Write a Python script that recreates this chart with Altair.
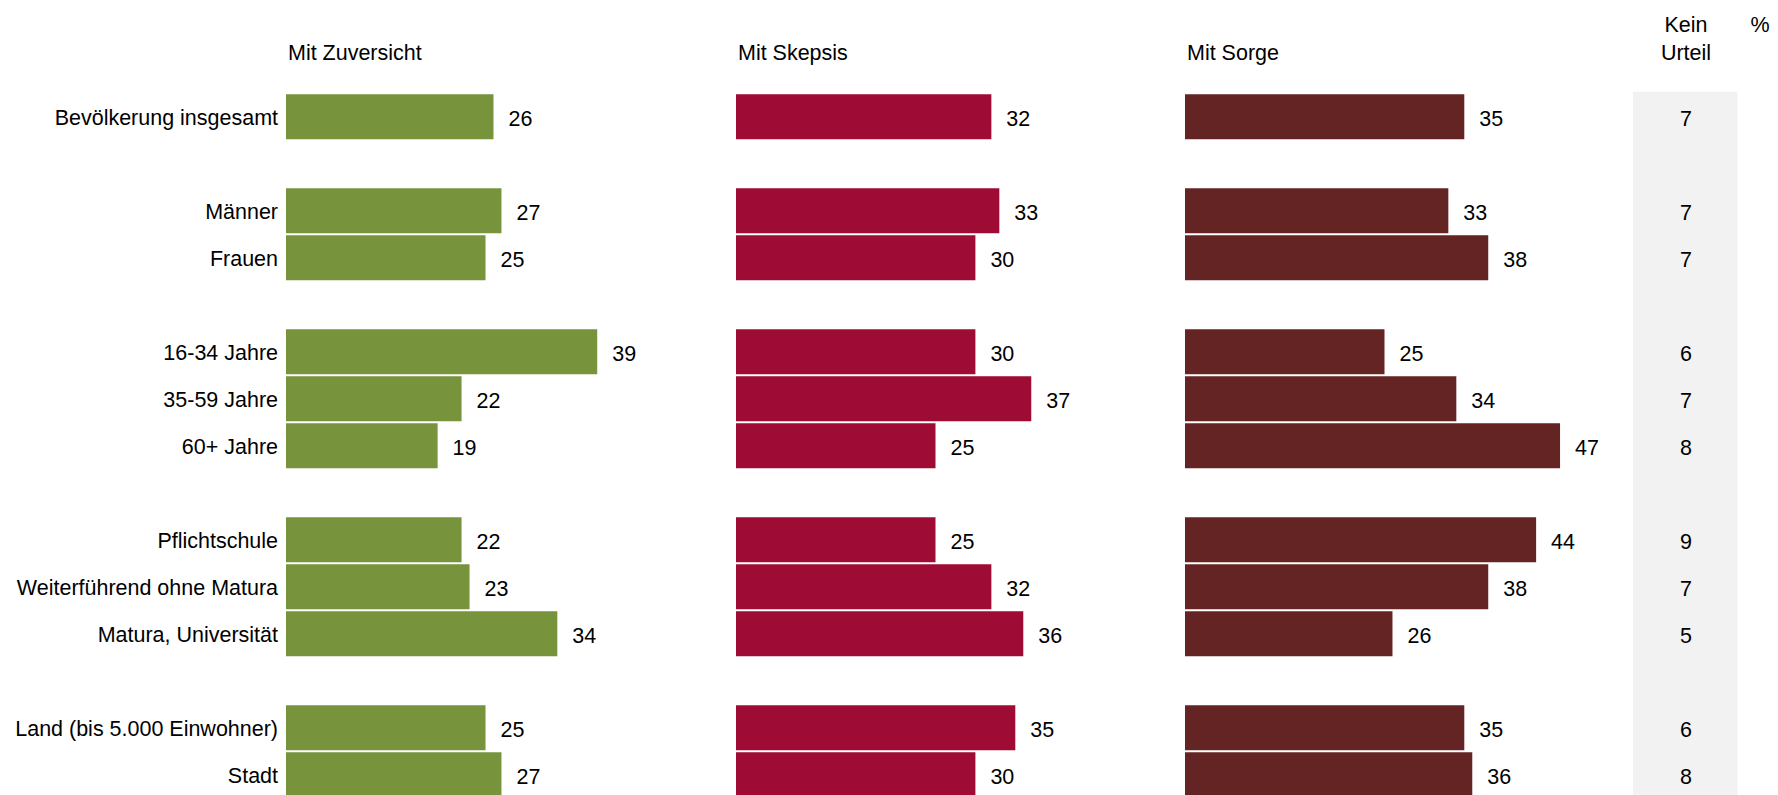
import altair as alt
import pandas as pd

# ---- data ----
categories = [
    "Bevölkerung insgesamt",
    "Männer", "Frauen",
    "16-34 Jahre", "35-59 Jahre", "60+ Jahre",
    "Pflichtschule", "Weiterführend ohne Matura", "Matura, Universität",
    "Land (bis 5.000 Einwohner)", "Stadt",
]
group_sizes = [1, 2, 3, 3, 2]
series = ["Mit Zuversicht", "Mit Skepsis", "Mit Sorge"]
zuversicht = [26, 27, 25, 39, 22, 19, 22, 23, 34, 25, 27]
skepsis = [32, 33, 30, 30, 37, 25, 25, 32, 36, 35, 30]
sorge = [35, 33, 38, 25, 34, 47, 44, 38, 26, 35, 36]
kein_urteil = [7, 7, 7, 6, 7, 8, 9, 7, 5, 6, 8]

colors = ["#77933C", "#9E0B34", "#632423"]
FONT = "Liberation Sans"
FS = 21.5

# ---- layout (pixels -> value units, 1 unit = PX px) ----
PX = 7.98
W = 1476
H = 705
panel_offset = {"Mit Zuversicht": 0.0, "Mit Skepsis": 450 / PX, "Mit Sorge": 899 / PX}
gray_x0, gray_x1, gray_mid, pct_mid = 1347 / PX, 1451.5 / PX, 1400 / PX, 1474 / PX

# y domain with blank spacer rows between groups
domain = []
i = 0
for g, n in enumerate(group_sizes):
    if g > 0:
        domain.append(f"_{g}")
    domain.extend(categories[i:i + n])
    i += n

rows = []
for s, vals in zip(series, [zuversicht, skepsis, sorge]):
    for c, v in zip(categories, vals):
        rows.append({"cat": c, "series": s, "value": v,
                     "start": panel_offset[s], "end": panel_offset[s] + v})
bars_df = pd.DataFrame(rows)

kein_df = pd.DataFrame({"cat": categories, "value": kein_urteil, "x": gray_mid})
head_df = pd.DataFrame({"label": series,
                        "x": [panel_offset[s] + 0.25 for s in series]})

xs = alt.Scale(domain=[0, W / PX], nice=False, zero=True)
ys = alt.Scale(domain=domain, paddingInner=0.045, paddingOuter=0.0225)

base = alt.Chart(bars_df)

gray = alt.Chart(pd.DataFrame({"x0": [gray_x0], "x1": [gray_x1]})).mark_rect(
    color="#F2F2F2").encode(
    x=alt.X("x0:Q", scale=xs, axis=None),
    x2="x1:Q",
    y=alt.value(-1.5),
    y2=alt.value(H),
)

bars = base.mark_bar().encode(
    x=alt.X("start:Q", scale=xs, axis=None),
    x2="end:Q",
    y=alt.Y("cat:N", scale=ys, sort=domain, title=None,
            axis=alt.Axis(labelExpr="substring(datum.value,0,1)=='_' ? '' : datum.value",
                          ticks=False, domain=False, grid=False, labelPadding=8.5,
                          labelOffset=2, labelFontSize=FS, labelFont=FONT,
                          labelColor="#000000", labelLimit=500)),
    color=alt.Color("series:N", scale=alt.Scale(domain=series, range=colors), legend=None),
)

labels = base.mark_text(align="left", baseline="middle", dx=15, dy=3,
                        fontSize=FS, font=FONT, color="#000000").encode(
    x=alt.X("end:Q", scale=xs, axis=None),
    y=alt.Y("cat:N", scale=ys, sort=domain, axis=None),
    text="value:Q",
)

kein = alt.Chart(kein_df).mark_text(align="center", baseline="middle", dy=3,
                                    fontSize=FS, font=FONT, color="#000000").encode(
    x=alt.X("x:Q", scale=xs, axis=None),
    y=alt.Y("cat:N", scale=ys, sort=domain, axis=None),
    text="value:Q",
)

heads = alt.Chart(head_df).mark_text(align="left", baseline="alphabetic",
                                     fontSize=FS, font=FONT, color="#000000").encode(
    x=alt.X("x:Q", scale=xs, axis=None),
    y=alt.value(-33.5),
    text="label:N",
)

kein_head = alt.Chart(pd.DataFrame({
    "t": ["Kein", "Urteil", "%"],
    "x": [gray_mid, gray_mid, pct_mid],
    "yy": [-61.0, -33.5, -61.0],
})).mark_text(align="center", baseline="alphabetic", fontSize=FS, font=FONT,
              color="#000000").encode(
    x=alt.X("x:Q", scale=xs, axis=None),
    y=alt.Y("yy:Q", scale=alt.Scale(domain=[0, H], range=[0, H]), axis=None),
    text="t:N",
)

chart = alt.layer(gray, bars, labels, kein, heads, kein_head).resolve_scale(
    y="independent"
).properties(
    width=W, height=H,
    padding={"left": 278, "top": 85.3, "right": 8, "bottom": 0},
    autosize=alt.AutoSizeParams(type="none"),
    background="white",
).configure(
    view=alt.ViewConfig(stroke=None),
    axis=alt.AxisConfig(grid=False),
)

chart.save("out.html", embed_options={"renderer": "svg", "actions": False})
